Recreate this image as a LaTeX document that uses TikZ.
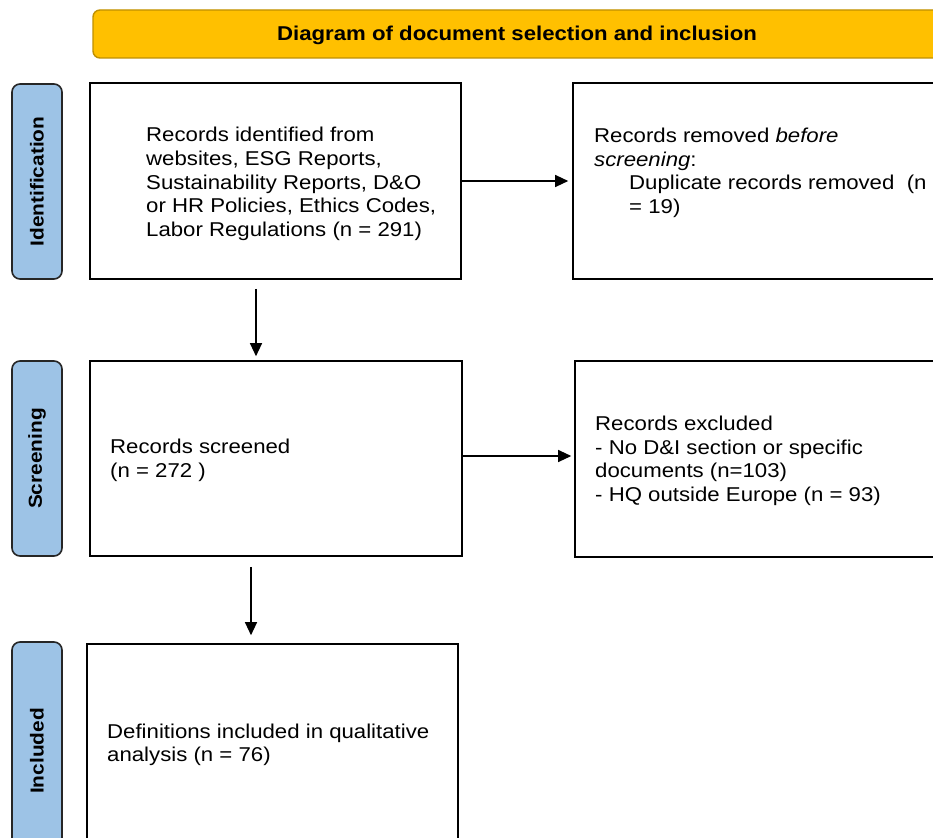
\documentclass[tikz,border=0pt]{standalone}
\usepackage{fontspec}
\setmainfont[FakeStretch=1.11]{Liberation Sans}
\usetikzlibrary{arrows.meta}
\definecolor{gold}{HTML}{FFC000}
\definecolor{goldline}{HTML}{C09000}
\definecolor{phaseblue}{HTML}{9DC3E6}
\begin{document}
\begin{tikzpicture}[x=1pt,y=-1pt,
  box/.style={draw=black,line width=1.6pt,rectangle,inner sep=0pt,fill=white},
  phase/.style={draw=black!85,line width=1.6pt,fill=phaseblue,rounded corners=8pt,inner sep=0pt,
     rotate=90,minimum height=50pt,font=\fontsize{18.8}{22}\selectfont\bfseries},
  txt/.style={font=\fontsize{20}{23.6}\selectfont,align=left,inner sep=0pt},
  arr/.style={line width=1.2pt,-{Triangle[length=13pt,width=12pt]}}
]
\clip (0,0) rectangle (933,837);
\fill[white] (0,0) rectangle (933,837);
% title bar
\node[draw=goldline,line width=1.4pt,fill=gold,rounded corners=7pt,minimum width=852pt,minimum height=48pt,inner sep=0pt] (title) at (519,34) {};
\node[txt,font=\fontsize{20}{23.6}\selectfont\bfseries] (titletext) at (517,35.5) {Diagram of document selection and inclusion};
% phase labels
\node[phase,minimum width=195pt] (ident) at (37,181.5) {Identification};
\node[phase,minimum width=195pt] (screen) at (37,458.5) {Screening};
\node[phase,minimum width=218pt] (incl) at (37,751) {Included};
% boxes
\node[box,minimum width=371pt,minimum height=196pt] (b1) at (275.5,181) {};
\node[box,minimum width=377pt,minimum height=196pt] (b2) at (761.5,181) {};
\node[box,minimum width=372pt,minimum height=195pt] (b3) at (276,458.5) {};
\node[box,minimum width=375pt,minimum height=196pt] (b4) at (762.5,459) {};
\node[box,minimum width=371pt,minimum height=216pt] (b5) at (272.5,752) {};
% texts
\node[txt,anchor=west] (t1) at (146,184) {Records identified from\\websites, ESG Reports,\\Sustainability Reports, D\&O\\or HR Policies, Ethics Codes,\\Labor Regulations (n = 291)};
\node[txt,anchor=north west] (t2) at (594,128) {Records removed \emph{before}\\\emph{screening}:\\\hspace*{35pt}Duplicate records removed~~(n\\\hspace*{35pt}= 19)};
\node[txt,anchor=west] (t3) at (110,460.5) {Records screened\\(n = 272 )};
\node[txt,anchor=west] (t4) at (595,461) {Records excluded\\- No D\&I section or specific\\documents (n=103)\\- HQ outside Europe (n = 93)};
\node[txt,anchor=west] (t5) at (107,745) {Definitions included in qualitative\\analysis (n = 76)};
% connectors
\draw[arr,shorten >=4pt] (b1.east) -- (b2.west);
\draw[arr,shorten <=9pt,shorten >=4pt] ([xshift=-19.5pt]b1.south) -- ([xshift=-19.5pt]b1.south |- b3.north);
\draw[arr,shorten >=3pt] ([yshift=2.5pt]b3.east) -- ([yshift=2.5pt]b3.east -| b4.west);
\draw[arr,shorten <=10pt,shorten >=8pt] ([xshift=-25pt]b3.south) -- ([xshift=-25pt]b3.south |- b5.north);
\end{tikzpicture}
\end{document}
